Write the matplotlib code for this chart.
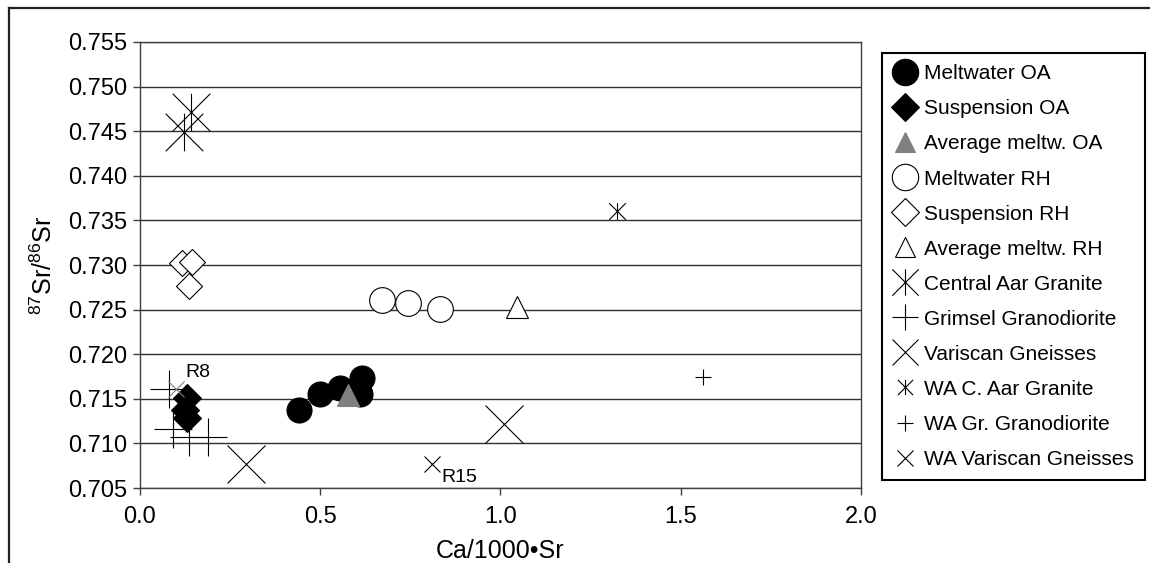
import matplotlib
matplotlib.use("Agg")
import matplotlib.pyplot as plt
from matplotlib.lines import Line2D
from matplotlib.path import Path

plt.rcParams["font.family"] = ["Liberation Sans", "DejaVu Sans"]

# data (Ca/1000*Sr, 87Sr/86Sr)
melt_oa_x = [0.442, 0.50, 0.556, 0.617, 0.611]
melt_oa_y = [0.7137, 0.7155, 0.7162, 0.7173, 0.7155]
susp_oa_x = [0.13, 0.125, 0.13]
susp_oa_y = [0.7151, 0.7137, 0.7129]
avg_oa_x = [0.578]
avg_oa_y = [0.7154]
melt_rh_x = [0.672, 0.744, 0.831]
melt_rh_y = [0.7261, 0.7257, 0.7251]
susp_rh_x = [0.116, 0.143, 0.136]
susp_rh_y = [0.7302, 0.7303, 0.7276]
avg_rh_x = [1.047]
avg_rh_y = [0.7253]
caar_x = [0.122, 0.142]
caar_y = [0.7449, 0.7472]
grim_x = [0.08, 0.093, 0.137, 0.19]
grim_y = [0.7161, 0.7116, 0.7107, 0.7107]
vari_x = [0.293, 1.011]
vari_y = [0.7077, 0.7122]
wa_caar_x = [1.322]
wa_caar_y = [0.7361]
wa_grim_x = [1.561]
wa_grim_y = [0.7174]
wa_vari_x = [0.811]
wa_vari_y = [0.7077]
r8_x = [0.10]
r8_y = [0.7161]

x_ticks = [0.0, 0.5, 1.0, 1.5, 2.0]
y_ticks = [0.705, 0.710, 0.715, 0.720, 0.725, 0.730, 0.735, 0.740, 0.745, 0.750, 0.755]

# Excel-style "star": an X with a vertical bar
STAR = Path(
    [(-0.5, -0.5), (0.5, 0.5), (-0.5, 0.5), (0.5, -0.5), (0, -0.5), (0, 0.5)],
    [Path.MOVETO, Path.LINETO] * 3,
)

GRAY = "#808080"
EW = 0.8

series = [
    # label, x, y, marker, face, edge, plot size, legend size
    ("Meltwater OA", melt_oa_x, melt_oa_y, "o", "black", "black", 18, 19),
    ("Suspension OA", susp_oa_x, susp_oa_y, "D", "black", "black", 14, 14),
    ("Average meltw. OA", avg_oa_x, avg_oa_y, "^", GRAY, GRAY, 16, 15),
    ("Meltwater RH", melt_rh_x, melt_rh_y, "o", "white", "black", 18.5, 19),
    ("Suspension RH", susp_rh_x, susp_rh_y, "D", "white", "black", 13.5, 14),
    ("Average meltw. RH", avg_rh_x, avg_rh_y, "^", "white", "black", 16, 15),
    ("Central Aar Granite", caar_x, caar_y, STAR, "none", "black", 27, 19),
    ("Grimsel Granodiorite", grim_x, grim_y, "+", "none", "black", 27, 19),
    ("Variscan Gneisses", vari_x, vari_y, "x", "none", "black", 27, 19),
    ("WA C. Aar Granite", wa_caar_x, wa_caar_y, STAR, "none", "black", 12, 11),
    ("WA Gr. Granodiorite", wa_grim_x, wa_grim_y, "+", "none", "black", 12, 11),
    ("WA Variscan Gneisses", wa_vari_x, wa_vari_y, "x", "none", "black", 12, 11),
]

fig = plt.figure(figsize=(11.5, 5.63), dpi=100)
ax = fig.add_axes([0.1217, 0.1332, 0.627, 0.7922])

handles = []
for label, xs, ys, mk, fc, ec, ms, lms in series:
    ax.plot(xs, ys, ls="none", marker=mk, ms=ms, mfc=fc, mec=ec, mew=EW, zorder=3)
    handles.append(
        Line2D([], [], ls="none", marker=mk, ms=lms, mfc=fc, mec=ec, mew=EW, label=label)
    )

ax.plot(r8_x, r8_y, ls="none", marker="x", ms=11, mec=GRAY, mew=EW, zorder=4)
ax.text(0.125, 0.7179, "R8", fontsize=14, va="center", ha="left")
ax.text(0.836, 0.7062, "R15", fontsize=14, va="center", ha="left")

ax.set_xlim(0, 2.0)
ax.set_ylim(0.705, 0.755)
ax.set_xticks(x_ticks)
ax.set_xticklabels([f"{v:.1f}" for v in x_ticks])
ax.set_yticks(y_ticks)
ax.set_yticklabels([f"{v:.3f}" for v in y_ticks])
ax.tick_params(labelsize=17, direction="out", length=5, width=1, color="#404040", pad=4)
ax.tick_params(axis="x", pad=8)
ax.set_axisbelow(True)
ax.yaxis.grid(True, color="#303030", linewidth=1.0)
for sp in ax.spines.values():
    sp.set_color("#404040")
    sp.set_linewidth(1.0)

ax.set_xlabel("Ca/1000\u2022Sr", fontsize=18, labelpad=8)
ax.set_ylabel(r"$\mathregular{^{87}Sr/^{86}Sr}$", fontsize=18, labelpad=8)

leg = fig.legend(
    handles=handles,
    loc="upper left",
    bbox_to_anchor=(0.767, 0.906),
    bbox_transform=fig.transFigure,
    fontsize=15,
    frameon=True,
    fancybox=False,
    edgecolor="black",
    framealpha=1,
    handlelength=1.1,
    handletextpad=0.35,
    labelspacing=0.77,
    borderpad=0.55,
    borderaxespad=0,
)
leg.get_frame().set_linewidth(1.5)

# outer frame of the original (top and left only)
fig.add_artist(Line2D([9 / 1150, 1.0], [1 - 8 / 563, 1 - 8 / 563], transform=fig.transFigure,
                      color="#202020", linewidth=1.6))
fig.add_artist(Line2D([9 / 1150, 9 / 1150], [0, 1 - 8 / 563], transform=fig.transFigure,
                      color="#202020", linewidth=1.6))

fig.savefig("out.png", dpi=100, facecolor="white")
